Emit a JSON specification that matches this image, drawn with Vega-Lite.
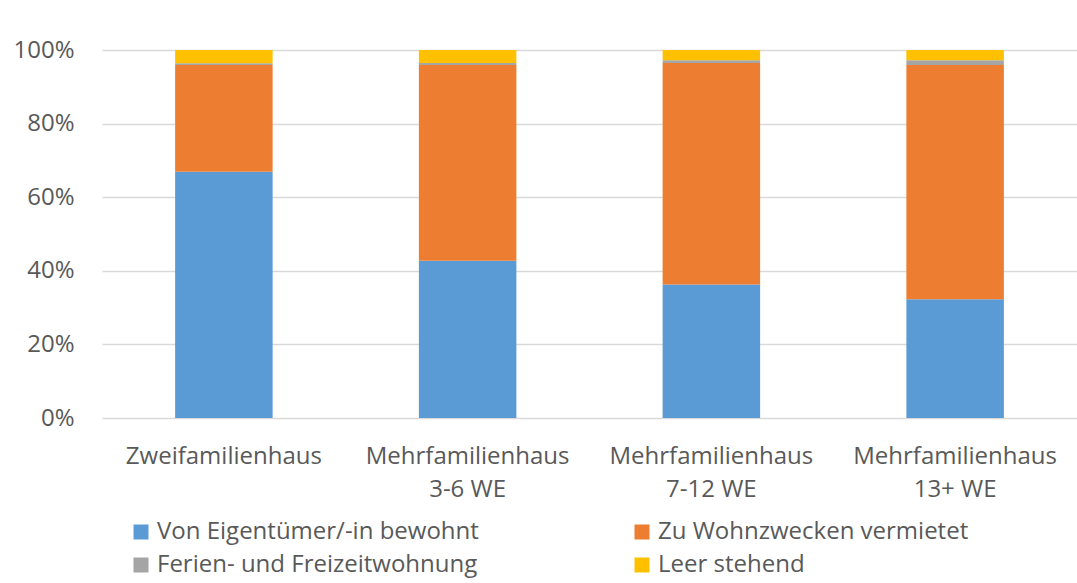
{
  "$schema": "https://vega.github.io/schema/vega-lite/v6.json",
  "autosize": {"type": "none"},
  "width": 975,
  "height": 368,
  "padding": {"left": 102, "top": 50, "right": 0, "bottom": 165},
  "background": "white",
  "config": {
    "view": {"stroke": null},
    "font": "Open Sans"
  },
  "data": {
    "values": [
      {"cat": "Zweifamilienhaus", "typ": "Von Eigentümer/-in bewohnt", "o": 1, "v": 66.9},
      {"cat": "Zweifamilienhaus", "typ": "Zu Wohnzwecken vermietet", "o": 2, "v": 29.0},
      {"cat": "Zweifamilienhaus", "typ": "Ferien- und Freizeitwohnung", "o": 3, "v": 0.5},
      {"cat": "Zweifamilienhaus", "typ": "Leer stehend", "o": 4, "v": 3.6},
      {"cat": "Mehrfamilienhaus|3-6 WE", "typ": "Von Eigentümer/-in bewohnt", "o": 1, "v": 42.7},
      {"cat": "Mehrfamilienhaus|3-6 WE", "typ": "Zu Wohnzwecken vermietet", "o": 2, "v": 53.2},
      {"cat": "Mehrfamilienhaus|3-6 WE", "typ": "Ferien- und Freizeitwohnung", "o": 3, "v": 0.6},
      {"cat": "Mehrfamilienhaus|3-6 WE", "typ": "Leer stehend", "o": 4, "v": 3.5},
      {"cat": "Mehrfamilienhaus|7-12 WE", "typ": "Von Eigentümer/-in bewohnt", "o": 1, "v": 36.3},
      {"cat": "Mehrfamilienhaus|7-12 WE", "typ": "Zu Wohnzwecken vermietet", "o": 2, "v": 60.2},
      {"cat": "Mehrfamilienhaus|7-12 WE", "typ": "Ferien- und Freizeitwohnung", "o": 3, "v": 0.7},
      {"cat": "Mehrfamilienhaus|7-12 WE", "typ": "Leer stehend", "o": 4, "v": 2.8},
      {"cat": "Mehrfamilienhaus|13+ WE", "typ": "Von Eigentümer/-in bewohnt", "o": 1, "v": 32.3},
      {"cat": "Mehrfamilienhaus|13+ WE", "typ": "Zu Wohnzwecken vermietet", "o": 2, "v": 63.6},
      {"cat": "Mehrfamilienhaus|13+ WE", "typ": "Ferien- und Freizeitwohnung", "o": 3, "v": 1.3},
      {"cat": "Mehrfamilienhaus|13+ WE", "typ": "Leer stehend", "o": 4, "v": 2.8}
    ]
  },
  "mark": {"type": "bar"},
  "encoding": {
    "x": {
      "field": "cat",
      "type": "nominal",
      "sort": null,
      "scale": {"paddingInner": 0.6, "paddingOuter": 0.3},
      "axis": {
        "title": null,
        "domain": false,
        "ticks": false,
        "labelAngle": 0,
        "labelExpr": "split(datum.label, '|')",
        "labelFont": "Open Sans",
        "labelFontSize": 24,
        "labelColor": "#595959",
        "labelPadding": 26,
        "labelLineHeight": 33,
        "labelLimit": 400
      }
    },
    "y": {
      "field": "v",
      "type": "quantitative",
      "stack": "normalize",
      "scale": {"domain": [0, 1]},
      "axis": {
        "title": null,
        "format": ".0%",
        "values": [0, 0.2, 0.4, 0.6, 0.8, 1],
        "domain": false,
        "ticks": false,
        "grid": true,
        "gridColor": "#D9D9D9",
        "gridWidth": 1.5,
        "labelFont": "Open Sans",
        "labelFontSize": 24,
        "labelColor": "#595959",
        "labelPadding": 28
      }
    },
    "color": {
      "field": "typ",
      "type": "nominal",
      "scale": {
        "domain": ["Von Eigentümer/-in bewohnt", "Zu Wohnzwecken vermietet", "Ferien- und Freizeitwohnung", "Leer stehend"],
        "range": ["#5B9BD5", "#ED7D31", "#A5A5A5", "#FFC000"]
      },
      "legend": {
        "title": null,
        "orient": "none",
        "legendX": 27,
        "legendY": 470,
        "direction": "horizontal",
        "columns": 2,
        "columnPadding": 151,
        "rowPadding": 9,
        "padding": 0,
        "symbolType": "square",
        "symbolSize": 225,
        "symbolStrokeWidth": 0,
        "symbolOpacity": 1,
        "labelFont": "Open Sans",
        "labelFontSize": 24,
        "labelColor": "#595959",
        "labelOffset": 4,
        "labelLimit": 500
      }
    },
    "order": {"field": "o", "type": "quantitative", "sort": "ascending"}
  }
}
